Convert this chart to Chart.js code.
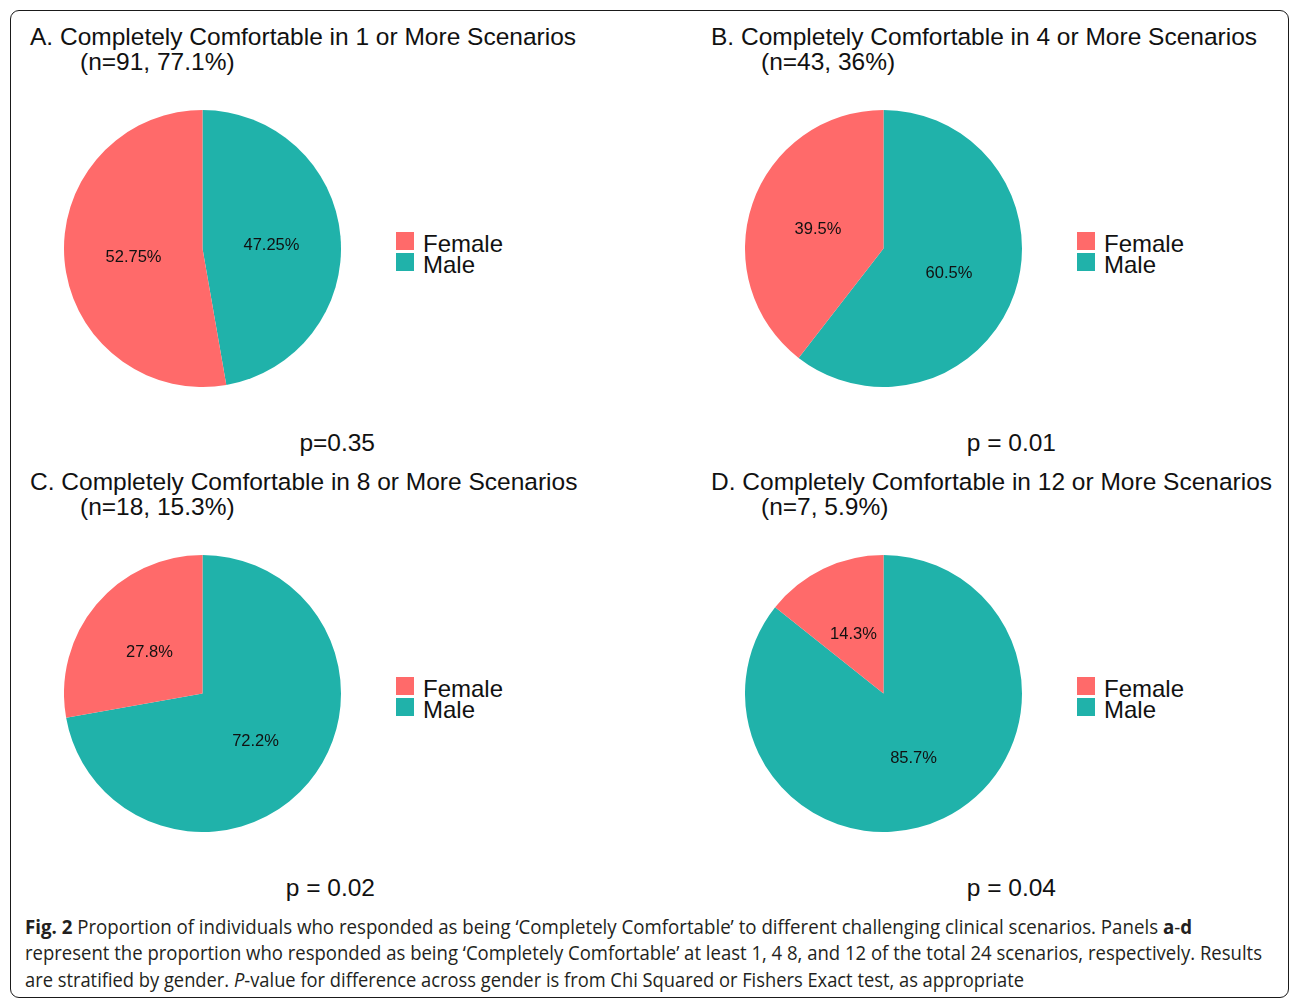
<!DOCTYPE html>
<html>
<head>
<meta charset="utf-8">
<script src="https://cdn.jsdelivr.net/npm/chart.js@4.4.1/dist/chart.umd.min.js"></script>
<style>
  html, body { margin: 0; padding: 0; background: #fff; }
  body { width: 1290px; height: 998px; position: relative; overflow: hidden; }
  #frame {
    position: absolute; left: 10px; top: 10px; width: 1277px; height: 986px;
    border: 1.5px solid #1a1a1a; border-radius: 9px;
  }
  .t { position: absolute; white-space: pre; color: #111; font-family: "Liberation Sans", Arial, sans-serif; }
  .cap { position: absolute; white-space: pre; color: #231f20; font-family: "Open Sans", sans-serif; transform-origin: 0 0; }
  .box { position: absolute; width: 18px; height: 18px; }
  canvas { position: absolute; }
</style>
</head>
<body>
<div id="frame"></div>
<script>
// values (percent of each group)
const genders = ['Male', 'Female'];
const legendOrder = ['Female', 'Male'];
const femalePct = [52.75, 39.5, 27.8, 14.3];
const malePct = [47.25, 60.5, 72.2, 85.7];
const panelTitles = [
  'A. Completely Comfortable in 1 or More Scenarios',
  'B. Completely Comfortable in 4 or More Scenarios',
  'C. Completely Comfortable in 8 or More Scenarios',
  'D. Completely Comfortable in 12 or More Scenarios'
];
const panelSubtitles = ['(n=91, 77.1%)', '(n=43, 36%)', '(n=18, 15.3%)', '(n=7, 5.9%)'];
const pValues = ['p=0.35', 'p = 0.01', 'p = 0.02', 'p = 0.04'];

const colors = { Female: '#FF6A6A', Male: '#20B2AA' };

// panel placement: column offset 681, row offset 445
const colX = [0, 681];
const rowY = [0, 445];

function addText(cls, txt, x, baseline, size, opts) {
  const d = document.createElement('div');
  d.className = cls;
  d.textContent = txt;
  d.style.fontSize = size + 'px';
  d.style.lineHeight = size + 'px';
  const asc = cls === 'cap' ? 0.888 : 0.8465;
  d.style.top = (baseline - asc * size) + 'px';
  if (opts && opts.right !== undefined) {
    d.style.right = (1290 - opts.right) + 'px';
  } else {
    d.style.left = x + 'px';
  }
  document.body.appendChild(d);
  return d;
}

const sliceLabels = {
  id: 'sliceLabels',
  afterDatasetsDraw(chart) {
    const ctx = chart.ctx;
    const meta = chart.getDatasetMeta(0);
    ctx.save();
    ctx.font = '16.5px "Liberation Sans", Arial, sans-serif';
    ctx.fillStyle = '#111';
    ctx.textAlign = 'center';
    ctx.textBaseline = 'middle';
    meta.data.forEach((arc, i) => {
      const p = arc.tooltipPosition();
      ctx.fillText(chart.data.datasets[0].data[i] + '%', p.x, p.y + 3);
    });
    ctx.restore();
  }
};

for (let k = 0; k < 4; k++) {
  const ox = colX[k % 2];
  const oy = rowY[Math.floor(k / 2)];

  addText('t', panelTitles[k], 30 + ox, 46 + oy, 24.5);
  addText('t', panelSubtitles[k], 80 + ox, 71 + oy, 24.5);
  addText('t', pValues[k], 0, 452 + oy, 24.5, { right: 375 + ox });

  // legend
  legendOrder.forEach((g, j) => {
    const b = document.createElement('div');
    b.className = 'box';
    b.style.left = (396 + ox) + 'px';
    b.style.top = (232 + j * 21 + oy) + 'px';
    b.style.background = colors[g];
    document.body.appendChild(b);
    addText('t', g, 423 + ox, 252 + j * 21 + oy, 24);
  });

  const cv = document.createElement('canvas');
  cv.width = 277; cv.height = 277;
  cv.style.left = (64 + ox) + 'px';
  cv.style.top = (110 + oy) + 'px';
  cv.style.width = '277px'; cv.style.height = '277px';
  document.body.appendChild(cv);

  new Chart(cv.getContext('2d'), {
    type: 'pie',
    data: {
      labels: genders,
      datasets: [{
        data: [malePct[k], femalePct[k]],
        backgroundColor: genders.map(g => colors[g]),
        borderWidth: 0
      }]
    },
    options: {
      responsive: false,
      animation: false,
      devicePixelRatio: 1,
      layout: { padding: 0 },
      plugins: { legend: { display: false }, tooltip: { enabled: false } }
    },
    plugins: [sliceLabels]
  });
}

// caption
const capLines = [
  { parts: [['Fig. 2', 'b'], [' Proportion of individuals who responded as being \u2018Completely Comfortable\u2019 to different challenging clinical scenarios. Panels ', ''], ['a', 'b'], ['-', ''], ['d', 'b']], end: 1192 },
  { parts: [['represent the proportion who responded as being \u2018Completely Comfortable\u2019 at least 1, 4 8, and 12 of the total 24 scenarios, respectively. Results', '']], end: 1262 },
  { parts: [['are stratified by gender. ', ''], ['P', 'i'], ['-value for difference across gender is from Chi Squared or Fishers Exact test, as appropriate', '']], end: 1024 }
];
capLines.forEach((ln, i) => {
  const d = addText('cap', '', 25, 934 + i * 26.5, 19.5);
  d.textContent = '';
  ln.parts.forEach(([s, st]) => {
    const sp = document.createElement('span');
    sp.textContent = s;
    if (st === 'b') sp.style.fontWeight = '700';
    if (st === 'i') sp.style.fontStyle = 'italic';
    d.appendChild(sp);
  });
  const w = d.getBoundingClientRect().width;
  d.style.transform = 'scaleX(' + ((ln.end - 25) / w) + ')';
});
</script>
</body>
</html>
